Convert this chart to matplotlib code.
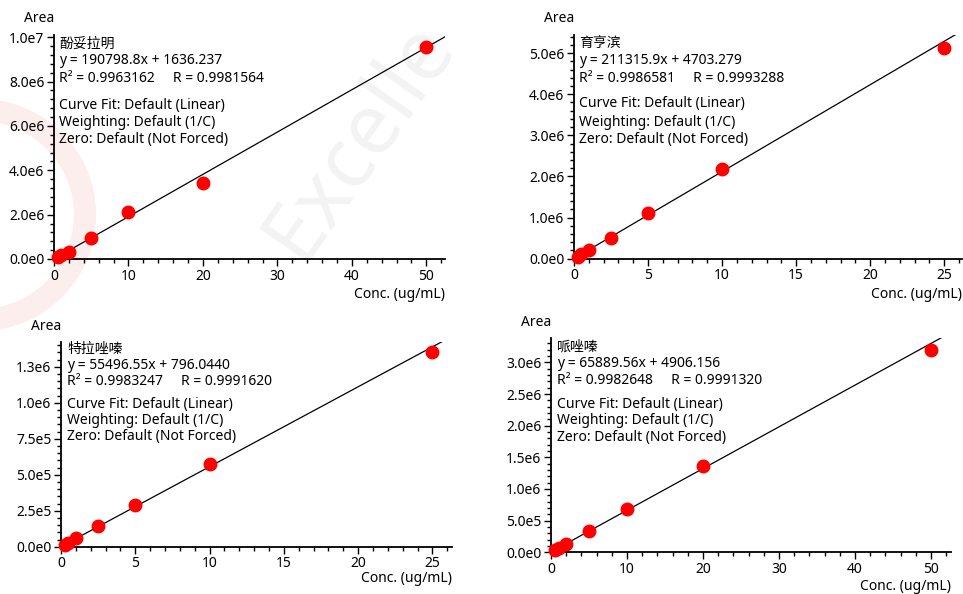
import matplotlib
matplotlib.use("Agg")
import matplotlib.pyplot as plt
import numpy as np
from matplotlib.ticker import MultipleLocator, FuncFormatter

plt.rcParams["font.family"] = ["Noto Sans", "Noto Sans CJK SC", "DejaVu Sans"]
plt.rcParams["font.size"] = 10

# calibration data
names = ["酚妥拉明", "育亨滨", "特拉唑嗪", "哌唑嗪"]
slopes = [190798.8, 211315.9, 55496.55, 65889.56]
intercepts = [1636.237, 4703.279, 796.0440, 4906.156]
eq_texts = ["y = 190798.8x + 1636.237", "y = 211315.9x + 4703.279",
            "y = 55496.55x + 796.0440", "y = 65889.56x + 4906.156"]
r_texts = ["R\u00b2 = 0.9963162     R = 0.9981564",
           "R\u00b2 = 0.9986581     R = 0.9993288",
           "R\u00b2 = 0.9983247     R = 0.9991620",
           "R\u00b2 = 0.9982648     R = 0.9991320"]
conc_50 = [0.5, 1, 2, 5, 10, 20, 50]
conc_25 = [0.25, 0.5, 1, 2.5, 5, 10, 25]
area_1 = [0.09e6, 0.18e6, 0.33e6, 0.94e6, 2.10e6, 3.43e6, 9.56e6]
area_2 = [0.05e6, 0.11e6, 0.22e6, 0.51e6, 1.10e6, 2.18e6, 5.13e6]
area_3 = [0.014e6, 0.028e6, 0.058e6, 0.144e6, 0.29e6, 0.574e6, 1.35e6]
area_4 = [0.035e6, 0.07e6, 0.13e6, 0.34e6, 0.68e6, 1.36e6, 3.19e6]
fit_info = ["Curve Fit: Default (Linear)", "Weighting: Default (1/C)",
            "Zero: Default (Not Forced)"]

# axes layout in pixels: left, right, top, bottom
boxes = [(54, 445, 35, 259), (574, 962, 35, 258.7),
         (61, 451.7, 341.7, 546.7), (551, 950.7, 337.7, 552.3)]
xlims = [52.5, 26.2, 26.3, 52.6]
ylims = [1.01e7, 5.44e6, 1.424e6, 3.39e6]
xmajor = [10, 5, 5, 10]
ymajor = [2e6, 1e6, 2.5e5, 5e5]
line_pos = [[9, 26, 44, 70, 87, 105], [9, 26, 44, 69, 87, 104],
            [7.3, 24, 40, 62.6, 78.6, 95], [9, 25.6, 42.3, 66.6, 83.3, 100]]
xlab_y = [295, 294, 579, 587]
area_y = [19, 19, 327, 323]

W, H = 963, 594
fig = plt.figure(figsize=(W / 100, H / 100), dpi=100)

# faint watermark on a background axes
bg = fig.add_axes([0, 0, 1, 1], zorder=-5)
bg.set_xlim(0, W)
bg.set_ylim(H, 0)
bg.axis("off")
bg.text(360, 140, "Excelle", fontsize=60, color="#f3f3f3", rotation=55,
        ha="center", va="center")
arc = plt.Circle((-20, 215), 105, fill=False, lw=16, color="#fdeeee", clip_on=True)
bg.add_patch(arc)


def fmt(v, pos):
    s = f"{v * (1 + 1e-9):.1e}"
    m, e = s.split("e")
    return f"{m}e{int(e)}"


areas = [area_1, area_2, area_3, area_4]
concs = [conc_50, conc_25, conc_25, conc_50]

for i in range(4):
    l, r, t, b = boxes[i]
    ax = fig.add_axes([l / W, 1 - b / H, (r - l) / W, (b - t) / H], zorder=2)
    ax.patch.set_alpha(0)
    ax.set_xlim(0, xlims[i])
    ax.set_ylim(0, ylims[i])
    for s in ["top", "right"]:
        ax.spines[s].set_visible(False)
    ax.spines["left"].set_linewidth(1.3)
    ax.spines["bottom"].set_linewidth(1.3)

    ax.xaxis.set_major_locator(MultipleLocator(xmajor[i]))
    ax.xaxis.set_minor_locator(MultipleLocator(xmajor[i] / 5))
    ax.yaxis.set_major_locator(MultipleLocator(ymajor[i]))
    ax.yaxis.set_minor_locator(MultipleLocator(ymajor[i] / 5))
    ax.yaxis.set_major_formatter(FuncFormatter(fmt))
    ax.tick_params(which="major", length=5, width=1, labelsize=10, pad=2)
    ax.tick_params(which="minor", length=3, width=1)

    xs = np.array([0, xlims[i]])
    ax.plot(xs, slopes[i] * xs + intercepts[i], color="black", lw=0.9)
    ax.plot(concs[i], areas[i], "o", color="#ff0000", ms=9, clip_on=False, zorder=3)

    lines = [names[i], eq_texts[i], r_texts[i]] + fit_info
    tx = (5 if i < 2 else 6) / W
    for txt, dy in zip(lines, line_pos[i]):
        ax.text(l / W + tx, 1 - (t + dy) / H, txt, ha="left", va="center",
                fontsize=10, transform=fig.transFigure)

    ax.text(r / W, 1 - xlab_y[i] / H, "Conc. (ug/mL)", ha="right",
            va="center", fontsize=10, transform=fig.transFigure)
    ax.text(l / W, 1 - area_y[i] / H, "Area", ha="right", va="center",
            fontsize=10, transform=fig.transFigure)

fig.savefig("out.png", dpi=100)
